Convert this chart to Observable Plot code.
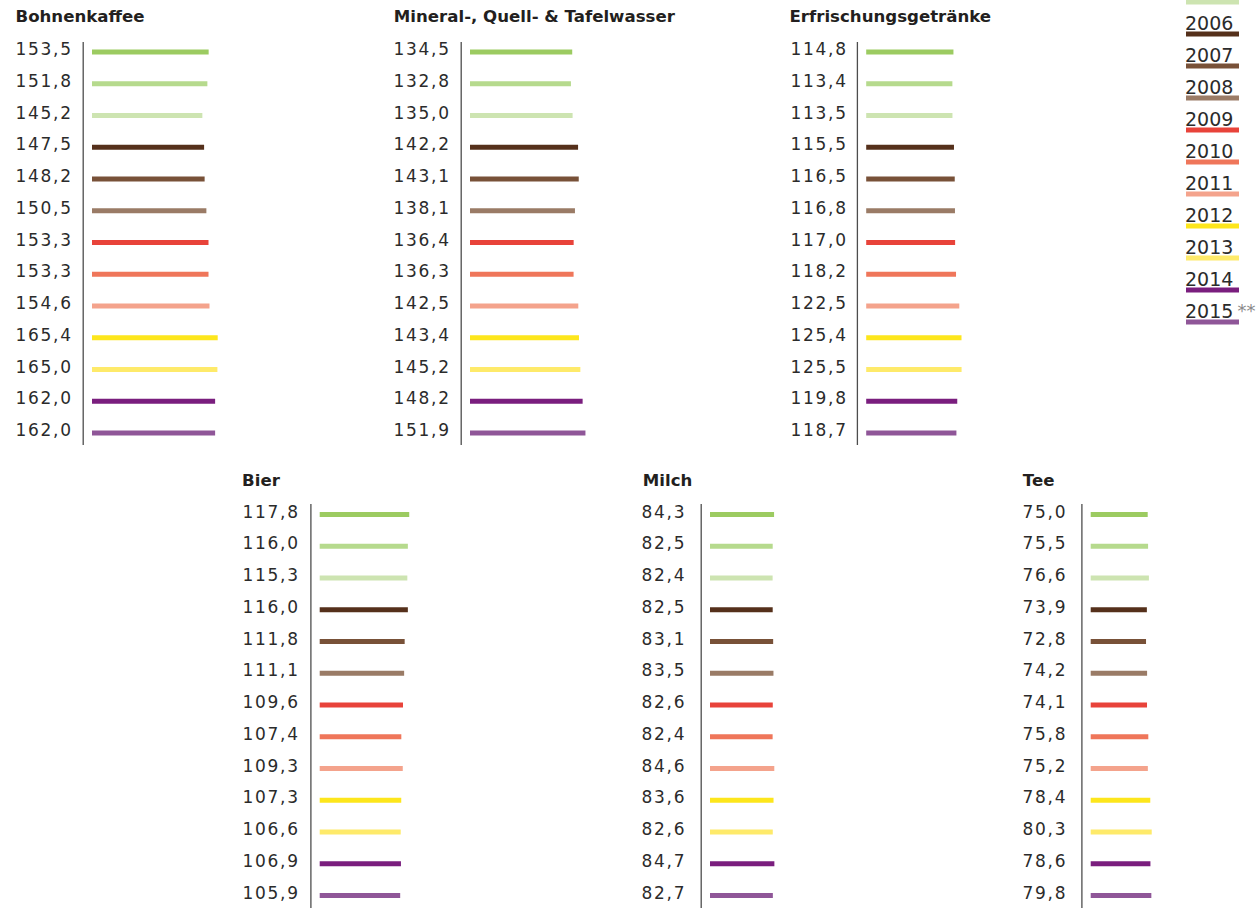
<!DOCTYPE html>
<html><head><meta charset="utf-8">
<script src="https://cdn.jsdelivr.net/npm/d3@7"></script>
<script src="https://cdn.jsdelivr.net/npm/@observablehq/plot@0.6"></script>
<style>
body{margin:0;background:#fff;}
#chart{position:relative;width:1258px;height:909px;overflow:hidden;background:#fff;font-family:"DejaVu Sans",sans-serif;}
.title{position:absolute;font-weight:bold;font-size:16.6px;line-height:16px;color:#231f20;white-space:nowrap;}
.panel{position:absolute;}
</style></head><body><div id="chart"></div>
<script>
// ---- data ----
const years = [2003,2004,2005,2006,2007,2008,2009,2010,2011,2012,2013,2014,2015];
const yearColors = ["#9ccb61","#b6da8d","#cde4b1","#55301b","#785138","#9a7b66","#e8433a","#ef765a","#f4a38c","#fde61c","#feea6a","#7a1e7e","#8f5698"];
const titles = ["Bohnenkaffee","Mineral-, Quell- & Tafelwasser","Erfrischungsgetränke","Bier","Milch","Tee"];
const bohnenkaffee = [153.5,151.8,145.2,147.5,148.2,150.5,153.3,153.3,154.6,165.4,165.0,162.0,162.0];
const mineralwasser = [134.5,132.8,135.0,142.2,143.1,138.1,136.4,136.3,142.5,143.4,145.2,148.2,151.9];
const erfrischung = [114.8,113.4,113.5,115.5,116.5,116.8,117.0,118.2,122.5,125.4,125.5,119.8,118.7];
const bier = [117.8,116.0,115.3,116.0,111.8,111.1,109.6,107.4,109.3,107.3,106.6,106.9,105.9];
const milch = [84.3,82.5,82.4,82.5,83.1,83.5,82.6,82.4,84.6,83.6,82.6,84.7,82.7];
const tee = [75.0,75.5,76.6,73.9,72.8,74.2,74.1,75.8,75.2,78.4,80.3,78.6,79.8];
const legendNote = "**";
const legendFirstShown = 2006; // earlier legend entries lie above the visible area

// ---- layout ----
const series = [bohnenkaffee, mineralwasser, erfrischung, bier, milch, tee];
const layout = [
  {labelX:16.7, axisX:82.7, titleX:16.7, row:0},
  {labelX:395, axisX:461, titleX:395, row:0},
  {labelX:791.5, axisX:856.7, titleX:790.7, row:0},
  {labelX:243.3, axisX:310, titleX:243.3, row:1},
  {labelX:642.7, axisX:700.7, titleX:644, row:1},
  {labelX:1024, axisX:1081.7, titleX:1024, row:1}
];
const rowsLayout = [
  {top:42, height:403, y0:9.5, y1:390.5, titleTop:8.6},
  {top:504.3, height:404, y0:10, y1:391, titleTop:472.6}
];
const k = 0.76, xMax = 170, gap = 9.3;
const fmt = v => v.toFixed(1).replace(".", ",");
const chart = document.getElementById("chart");

series.forEach((vals, i) => {
  const L = layout[i], R = rowsLayout[L.row];
  const t = document.createElement("div");
  t.className = "title";
  t.textContent = titles[i];
  t.style.left = (L.titleX - 1.2) + "px";
  t.style.top = R.titleTop + "px";
  chart.appendChild(t);

  const rows = years.map((y, j) => ({year: y, value: vals[j]}));
  const svgLeft = L.labelX - 1.7;
  const barStart = L.axisX - svgLeft + gap;
  const width = Math.ceil(barStart + k * xMax + 5);
  const p = Plot.plot({
    width, height: R.height,
    marginTop: 0, marginBottom: 0, marginLeft: 0, marginRight: 0,
    x: {domain: [0, xMax], range: [barStart, barStart + k * xMax], axis: null},
    y: {type: "linear", domain: [years[0], years[years.length - 1]], range: [R.y0, R.y1], axis: null},
    color: {type: "ordinal", domain: years, range: yearColors},
    style: {fontFamily: "DejaVu Sans", background: "transparent", overflow: "visible", letterSpacing: "1.7px"},
    marks: [
      Plot.ruleX([0], {dx: -gap, stroke: "#4d4d4d", strokeWidth: 1.3}),
      Plot.ruleY(rows, {y: "year", x1: 0, x2: "value", stroke: "year", strokeWidth: 5}),
      Plot.text(rows, {y: "year", frameAnchor: "left", textAnchor: "start", text: d => fmt(d.value), fontSize: 17, dy: -2.3, fill: "#2b2b2b"})
    ]
  });
  const d = document.createElement("div");
  d.className = "panel";
  d.style.left = svgLeft + "px";
  d.style.top = R.top + "px";
  d.style.width = width + "px";
  d.style.height = R.height + "px";
  d.appendChild(p);
  chart.appendChild(d);
});

// ---- legend ----
const legTop = -90, legLeft = 1180;
const lg = Plot.plot({
  width: 78, height: 430,
  marginTop: 0, marginBottom: 0, marginLeft: 0, marginRight: 0,
  x: {domain: [0, 1], range: [6, 59], axis: null},
  y: {type: "linear", domain: [years[0], years[years.length - 1]], range: [27.5, 27.5 + 32 * 12], axis: null},
  color: {type: "ordinal", domain: years, range: yearColors},
  style: {fontFamily: "DejaVu Sans", background: "transparent", overflow: "visible"},
  marks: [
    Plot.ruleY(years, {y: d => d, x1: 0, x2: 1, stroke: d => d, strokeWidth: 5}),
    Plot.text(years.filter(y => y >= legendFirstShown), {y: d => d, x: 0, dx: -1.5, dy: -10.3, text: d => String(d), textAnchor: "start", fontSize: 19, fill: "#2b2b2b"}),
    Plot.text([years[years.length - 1]], {y: d => d, x: 0, dx: 51, dy: -10.3, text: () => legendNote, textAnchor: "start", fontSize: 18, fill: "#8a8a8a"})
  ]
});
const ld = document.createElement("div");
ld.className = "panel";
ld.style.left = legLeft + "px";
ld.style.top = legTop + "px";
ld.style.width = "78px";
ld.appendChild(lg);
chart.appendChild(ld);
</script>
</body></html>
